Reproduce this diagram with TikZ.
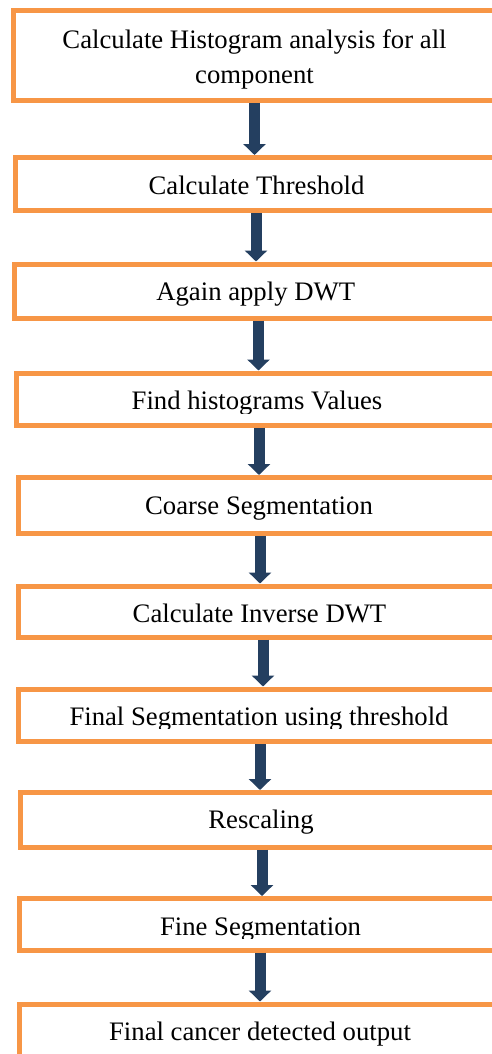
\documentclass[tikz,border=0pt]{standalone}
\usepackage{fontspec}
\setmainfont{Liberation Serif}
\usetikzlibrary{arrows.meta}
\definecolor{boxorange}{HTML}{F79646}
\definecolor{flownavy}{HTML}{243F60}
\tikzset{
  stagebox/.style={draw=boxorange, line width=5pt, fill=white, rectangle,
    inner sep=0pt, minimum width=#1},
  stagetext/.style={inner sep=0pt, anchor=base, font=\fontsize{26.7}{35}\selectfont},
  flow/.style={draw=flownavy, line width=11pt,
    -{Triangle[width=22pt,length=11pt]}},
}
\begin{document}
\begin{tikzpicture}[x=1pt,y=-1pt]
\useasboundingbox (0,0) rectangle (491,1054);

% stage frames: centre, width, height (right edges run past the page)
\node[stagebox=482pt, minimum height=90pt] (b1) at (254.5,55.5) {};
\node[stagebox=482pt, minimum height=53pt] (b2) at (256.5,184) {};
\node[stagebox=482.5pt, minimum height=54pt] (b3) at (255.75,291) {};
\node[stagebox=482pt, minimum height=52pt] (b4) at (257,399) {};
\node[stagebox=481pt, minimum height=56pt] (b5) at (259,505.5) {};
\node[stagebox=482pt, minimum height=51pt] (b6) at (259.5,611.5) {};
\node[stagebox=481pt, minimum height=52.5pt] (b7) at (259,715.25) {};
\node[stagebox=482pt, minimum height=54.5pt] (b8) at (261,819.75) {};
\node[stagebox=482pt, minimum height=51.5pt] (b9) at (260.5,924.25) {};
\node[stagebox=481pt, minimum height=56pt] (b10) at (260,1032) {};

% stage labels
\node[inner sep=0pt, align=center, font=\fontsize{26.7}{35}\selectfont] (t1) at (254.5,59)
  {Calculate Histogram analysis for all\\component};
\node[stagetext] (t2) at (256.5,194.3) {Calculate Threshold};
\node[stagetext] (t3) at (255.7,300) {Again apply DWT};
\begin{scope}
  \clip (0,0) rectangle (491,413);
  \node[stagetext] (t4) at (257,409.3) {Find histograms Values};
\end{scope}
\node[stagetext] (t5) at (259,514) {Coarse Segmentation};
\node[stagetext] (t6) at (259.5,622.3) {Calculate Inverse DWT};
\begin{scope}
  \clip (0,0) rectangle (491,728);
  \node[stagetext] (t7) at (259,725) {Final Segmentation using threshold};
\end{scope}
\node[stagetext] (t8) at (261,828.3) {Rescaling};
\begin{scope}
  \clip (0,0) rectangle (491,938);
  \node[stagetext] (t9) at (260.5,935) {Fine Segmentation};
\end{scope}
\node[stagetext] (t10) at (260,1040.7) {Final cancer detected output};

% block arrows between consecutive stages
\draw[flow] (254.5,0 |- b1.south) -- (254.5,0 |- b2.north);
\draw[flow] (256,0 |- b2.south) -- (256,0 |- b3.north);
\draw[flow] (258.5,0 |- b3.south) -- (258.5,0 |- b4.north);
\draw[flow] (259,0 |- b4.south) -- (259,0 |- b5.north);
\draw[flow] (260,0 |- b5.south) -- (260,0 |- b6.north);
\draw[flow] (263,0 |- b6.south) -- (263,0 |- b7.north);
\draw[flow] (260,0 |- b7.south) -- (260,0 |- b8.north);
\draw[flow] (262,0 |- b8.south) -- (262,0 |- b9.north);
\draw[flow] (260,0 |- b9.south) -- (260,0 |- b10.north);
\end{tikzpicture}
\end{document}
